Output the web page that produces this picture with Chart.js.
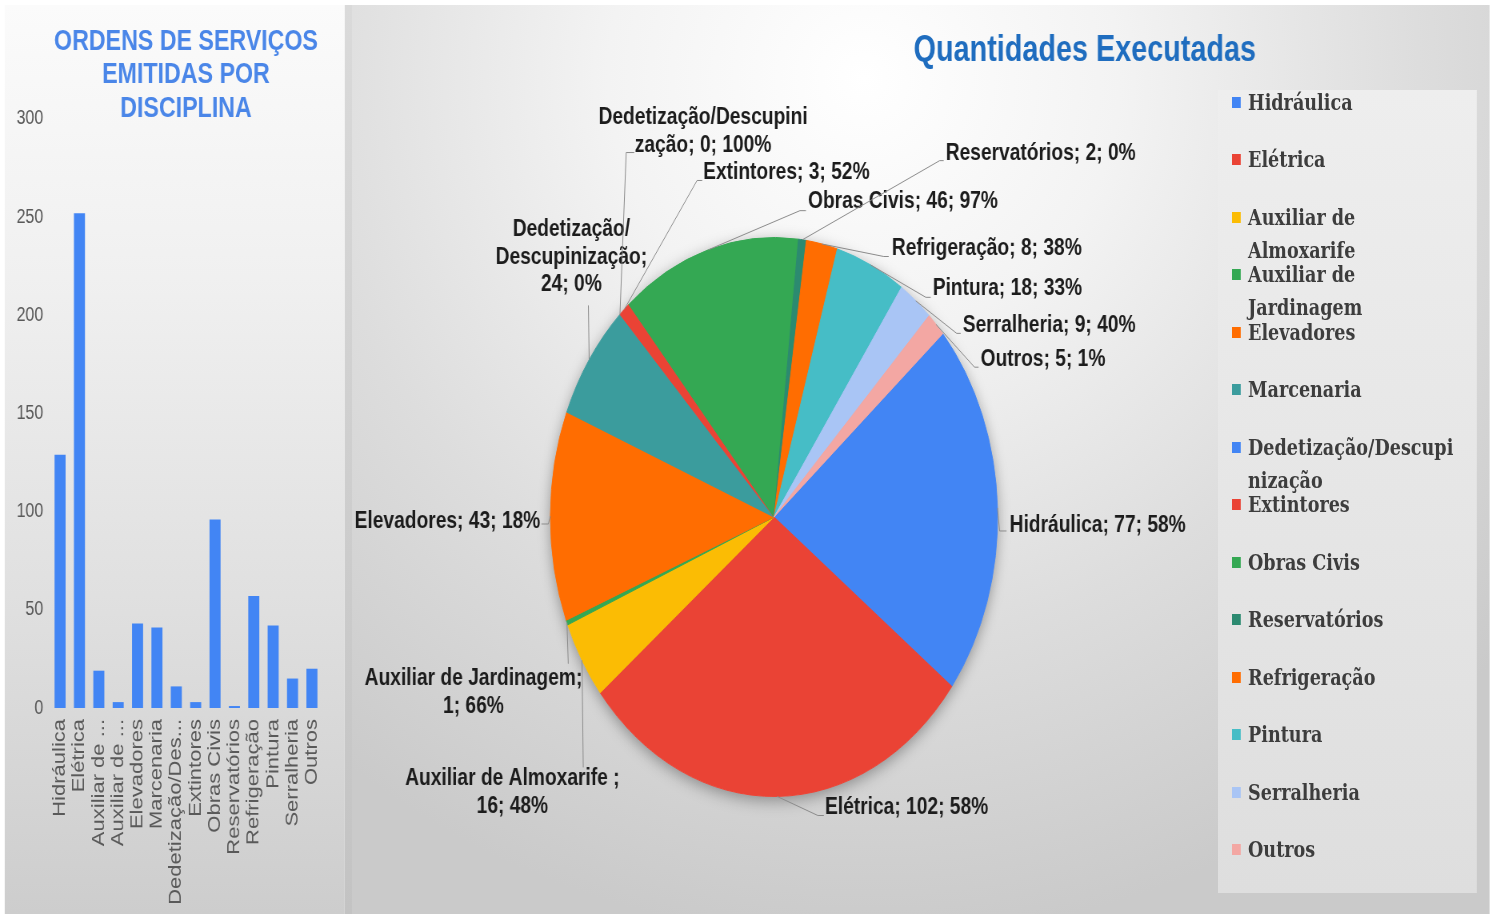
<!DOCTYPE html>
<html lang="pt-BR">
<head>
<meta charset="utf-8">
<title>Ordens de serviços e quantidades executadas</title>
<script src="https://cdn.jsdelivr.net/npm/chart.js@4.4.1/dist/chart.umd.min.js"></script>
<style>
  html, body { margin: 0; padding: 0; background: #fff; overflow: hidden; }
  /* the original picture is squeezed horizontally, so the whole stage is drawn wider and scaled */
  #stage { position: absolute; left: 0; top: 0; width: 1870px; height: 914px; transform: scaleX(0.8); transform-origin: 0 0; }
  #leftPanel { position: absolute; left: 6px; top: 5px; width: 425px; height: 909px;
    background: linear-gradient(to bottom, #fbfbfb 0%, #f0f0f0 30%, #e0e0e0 65%, #cdcdcd 100%); }
  #divider { position: absolute; left: 431px; top: 5px; width: 9px; height: 909px;
    background: linear-gradient(to bottom, #dadada, #c3c3c3); }
  #rightPanel { position: absolute; left: 440px; top: 5px; width: 1422px; height: 909px;
    background: radial-gradient(ellipse 75% 95% at 45% 8%, #ffffff 0%, #f3f3f3 30%, #dddddd 65%, #cacaca 100%); }
  #barCanvas { position: absolute; left: 6px; top: 5px; }
  #pieCanvas { position: absolute; left: 440px; top: 5px; }
  #legend { position: absolute; left: 1522px; top: 90px; width: 324px; height: 803px;
    background: linear-gradient(to bottom, #eeeeee, #dedede); }
  #legend .item { position: absolute; left: 0; width: 100%; height: 57px; }
  #legend .marca { position: absolute; left: 18px; top: 11px; width: 11px; height: 11px; }
  #legend .txt { margin-left: 38px; font: bold 22px "DejaVu Serif", serif; line-height: 33px;
    color: #3d3d3d; white-space: nowrap; }
</style>
</head>
<body>
<div id="stage">
  <div id="leftPanel"></div>
  <div id="divider"></div>
  <div id="rightPanel"></div>
  <canvas id="barCanvas" width="431" height="905"></canvas>
  <canvas id="pieCanvas" width="1422" height="900"></canvas>
  <div id="legend"></div>
</div>
<script>
// categories (same order in both charts)
const categorias = ["Hidráulica", "Elétrica", "Auxiliar de Almoxarife", "Auxiliar de Jardinagem",
  "Elevadores", "Marcenaria", "Dedetização/Descupinização", "Extintores", "Obras Civis",
  "Reservatórios", "Refrigeração", "Pintura", "Serralheria", "Outros"];

// left chart: service orders issued
const osEmitidas = [129, 252, 19, 3, 43, 41, 11, 3, 96, 1, 57, 42, 15, 20];
const yTicks = [0, 50, 100, 150, 200, 250, 300];

// right chart: executed quantities and the percentages printed in the labels
const qtdExecutadas = [77, 102, 16, 1, 43, 24, 0, 3, 46, 2, 8, 18, 9, 5];
const percExecutadas = [58, 58, 48, 66, 18, 0, 100, 52, 97, 0, 38, 33, 40, 1];
// names as they appear in the pie data labels
const nomesRotulos = ["Hidráulica", "Elétrica", "Auxiliar de Almoxarife ", "Auxiliar de Jardinagem",
  "Elevadores", "Dedetização/Descupinização", "Dedetização/Descupinização", "Extintores",
  "Obras Civis", "Reservatórios", "Refrigeração", "Pintura", "Serralheria", "Outros"];

const tituloBarras = ["ORDENS DE SERVIÇOS", "EMITIDAS POR", "DISCIPLINA"];
const tituloPizza = "Quantidades Executadas";

const corBarra = "#4285f4";
const coresPizza = ["#4285f4", "#ea4335", "#fbbc04", "#34a853", "#ff6d01", "#3b9c9d", "#4285f4",
  "#ea4335", "#34a853", "#2c8a70", "#ff6d01", "#46bdc6", "#a9c5f5", "#f3a7a3"];

// label placement around the pie, in pie radii from the centre
// texto = first line anchor, linha = leader points after the slice edge, quebras = line starts
const layoutRotulos = [
  { texto: [1.054, 0.029], alinhar: "left", linha: [[1.009, 0.05], [1.040, 0.05]] },
  { texto: [0.228, 1.039], alinhar: "left", linha: [[0.196, 1.068], [0.223, 1.068]] },
  { texto: [-1.170, 0.936], alinhar: "center", quebras: [24], linha: [[-0.853, 0.896]] },
  { texto: [-1.344, 0.579], alinhar: "center", quebras: [23], linha: [[-0.920, 0.525]] },
  { texto: [-1.045, 0.014], alinhar: "right", linha: [[-1.009, 0.025], [-1.040, 0.025]] },
  { texto: [-0.906, -1.029], alinhar: "center", quebras: [12, 27], linha: [[-0.830, -0.757]] },
  { texto: [-0.317, -1.429], alinhar: "center", quebras: [21], linha: [[-0.661, -1.304], [-0.625, -1.304]] },
  { texto: [-0.317, -1.232], alinhar: "left", linha: [[-0.344, -1.204], [-0.321, -1.204]] },
  { texto: [0.152, -1.129], alinhar: "left", linha: [[0.116, -1.096], [0.143, -1.096]] },
  { texto: [0.768, -1.300], alinhar: "left", linha: [[0.741, -1.275], [0.759, -1.275]] },
  { texto: [0.527, -0.961], alinhar: "left", linha: [[0.491, -0.932], [0.513, -0.932]] },
  { texto: [0.710, -0.818], alinhar: "left", linha: [[0.679, -0.786], [0.701, -0.786]] },
  { texto: [0.844, -0.686], alinhar: "left", linha: [[0.817, -0.657], [0.835, -0.657]] },
  { texto: [0.924, -0.564], alinhar: "left", linha: [[0.897, -0.536], [0.915, -0.536]] }
];

Chart.defaults.font.family = '"Liberation Sans", Arial, sans-serif';

// long category names are cut like the spreadsheet does
function encurtar(txt) {
  if (txt.length <= 15) return txt;
  let s = txt.slice(0, 15);
  const sp = s.lastIndexOf(" ");
  if (sp > 0) s = s.slice(0, sp) + " ";
  return s + "...";
}

function quebrar(txt, quebras) {
  if (!quebras) return [txt];
  const partes = [];
  let ini = 0;
  quebras.concat([txt.length]).forEach(fim => {
    partes.push(txt.slice(ini, fim).trim());
    ini = fim;
  });
  return partes;
}

// wraps a legend entry by width, cutting a word only when it can not fit alone
function quebrarLargura(m, txt, max) {
  const linhas = [];
  let atual = "";
  txt.split(" ").forEach(p => {
    const teste = atual ? atual + " " + p : p;
    if (m.measureText(teste).width <= max) { atual = teste; return; }
    if (atual) { linhas.push(atual); atual = ""; }
    while (m.measureText(p).width > max) {
      let k = p.length;
      while (k > 1 && m.measureText(p.slice(0, k)).width > max) k--;
      linhas.push(p.slice(0, k));
      p = p.slice(k);
    }
    atual = p;
  });
  if (atual) linhas.push(atual);
  return linhas;
}

// ---------- bar chart ----------
new Chart(document.getElementById("barCanvas"), {
  type: "bar",
  data: {
    labels: categorias,
    datasets: [{ data: osEmitidas, backgroundColor: corBarra, categoryPercentage: 1, barPercentage: 0.57 }]
  },
  options: {
    responsive: false,
    animation: false,
    layout: { padding: { left: 6, right: 35, top: 0, bottom: 0 } },
    plugins: {
      legend: { display: false },
      tooltip: { enabled: false },
      title: {
        display: true,
        text: tituloBarras,
        fullSize: false,
        color: "#4a86e8",
        font: { size: 29, weight: "bold", lineHeight: 1.16 },
        padding: { top: 20, bottom: -7 }
      }
    },
    scales: {
      y: {
        min: 0, max: 300,
        afterBuildTicks: s => { s.ticks = yTicks.map(v => ({ value: v })); },
        afterFit: s => { s.width = 51; },
        grid: { display: false, drawTicks: false },
        border: { display: false },
        ticks: { color: "#595959", padding: 9, font: { size: 20 } }
      },
      x: {
        afterFit: s => { s.height = 202; },
        grid: { display: false, drawTicks: false },
        border: { display: false },
        ticks: {
          color: "#595959", padding: 11, autoSkip: false, maxRotation: 90, minRotation: 90,
          font: { size: 22 },
          callback: function (value) { return encurtar(this.getLabelForValue(value)); }
        }
      }
    }
  }
});

// ---------- pie chart ----------
const sombraPizza = {
  id: "sombraPizza",
  beforeDatasetsDraw(chart) {
    const arc = chart.getDatasetMeta(0).data[0];
    if (!arc) return;
    const ctx = chart.ctx;
    ctx.save();
    ctx.shadowColor = "rgba(0,0,0,0.35)";
    ctx.shadowBlur = 16;
    ctx.shadowOffsetY = 4;
    ctx.fillStyle = "#d8d8d8";
    ctx.beginPath();
    ctx.arc(arc.x, arc.y, arc.outerRadius, 0, Math.PI * 2);
    ctx.fill();
    ctx.restore();
  }
};

const rotulosPizza = {
  id: "rotulosPizza",
  afterDatasetsDraw(chart) {
    const ctx = chart.ctx;
    const meta = chart.getDatasetMeta(0);
    const cx = meta.data[0].x, cy = meta.data[0].y, R = meta.data[0].outerRadius;
    ctx.save();
    ctx.strokeStyle = "#8a8a8a";
    ctx.lineWidth = 1;
    ctx.font = 'bold 24px "Liberation Sans", Arial, sans-serif';
    ctx.fillStyle = "#1c1c1c";
    ctx.textBaseline = "middle";
    meta.data.forEach((arc, i) => {
      const lay = layoutRotulos[i];
      const p = arc.getProps(["x", "y", "startAngle", "endAngle", "outerRadius"], true);
      const meio = (p.startAngle + p.endAngle) / 2;
      ctx.beginPath();
      ctx.moveTo(p.x + Math.cos(meio) * p.outerRadius, p.y + Math.sin(meio) * p.outerRadius);
      lay.linha.forEach(pt => ctx.lineTo(cx + pt[0] * R, cy + pt[1] * R));
      ctx.stroke();
      const texto = nomesRotulos[i] + "; " + qtdExecutadas[i] + "; " + percExecutadas[i] + "%";
      ctx.textAlign = lay.alinhar;
      quebrar(texto, lay.quebras).forEach((l, k) => {
        ctx.fillText(l, cx + lay.texto[0] * R, cy + lay.texto[1] * R + k * 27.5);
      });
    });
    // chart title sits over the right part of the panel
    ctx.font = 'bold 36px "Liberation Sans", Arial, sans-serif';
    ctx.fillStyle = "#1f6dbf";
    ctx.textAlign = "center";
    ctx.fillText(tituloPizza, 916, 46);
    ctx.restore();
  }
};

const legendaHtml = {
  id: "legendaHtml",
  afterUpdate(chart) {
    const box = document.getElementById("legend");
    box.innerHTML = "";
    const cores = chart.data.datasets[0].backgroundColor;
    const medidor = document.createElement("canvas").getContext("2d");
    medidor.font = 'bold 22px "DejaVu Serif", serif';
    chart.data.labels.forEach((nome, i) => {
      const item = document.createElement("div");
      item.className = "item";
      item.style.top = (i * 57.5 - 4.5) + "px";
      const marca = document.createElement("span");
      marca.className = "marca";
      marca.style.background = cores[i];
      item.appendChild(marca);
      quebrarLargura(medidor, nome, 266).forEach(l => {
        const d = document.createElement("div");
        d.className = "txt";
        d.textContent = l;
        item.appendChild(d);
      });
      box.appendChild(item);
    });
  }
};

new Chart(document.getElementById("pieCanvas"), {
  type: "pie",
  data: {
    labels: categorias,
    datasets: [{
      data: qtdExecutadas,
      backgroundColor: coresPizza,
      borderColor: coresPizza,
      borderWidth: c => (c.raw ? 1 : 0),
      hoverOffset: 0
    }]
  },
  options: {
    responsive: false,
    animation: false,
    rotation: 49,
    layout: { padding: { left: 247.5, right: 614.5, top: 232, bottom: 108 } },
    plugins: { legend: { display: false }, tooltip: { enabled: false } }
  },
  plugins: [sombraPizza, rotulosPizza, legendaHtml]
});
</script>
</body>
</html>
